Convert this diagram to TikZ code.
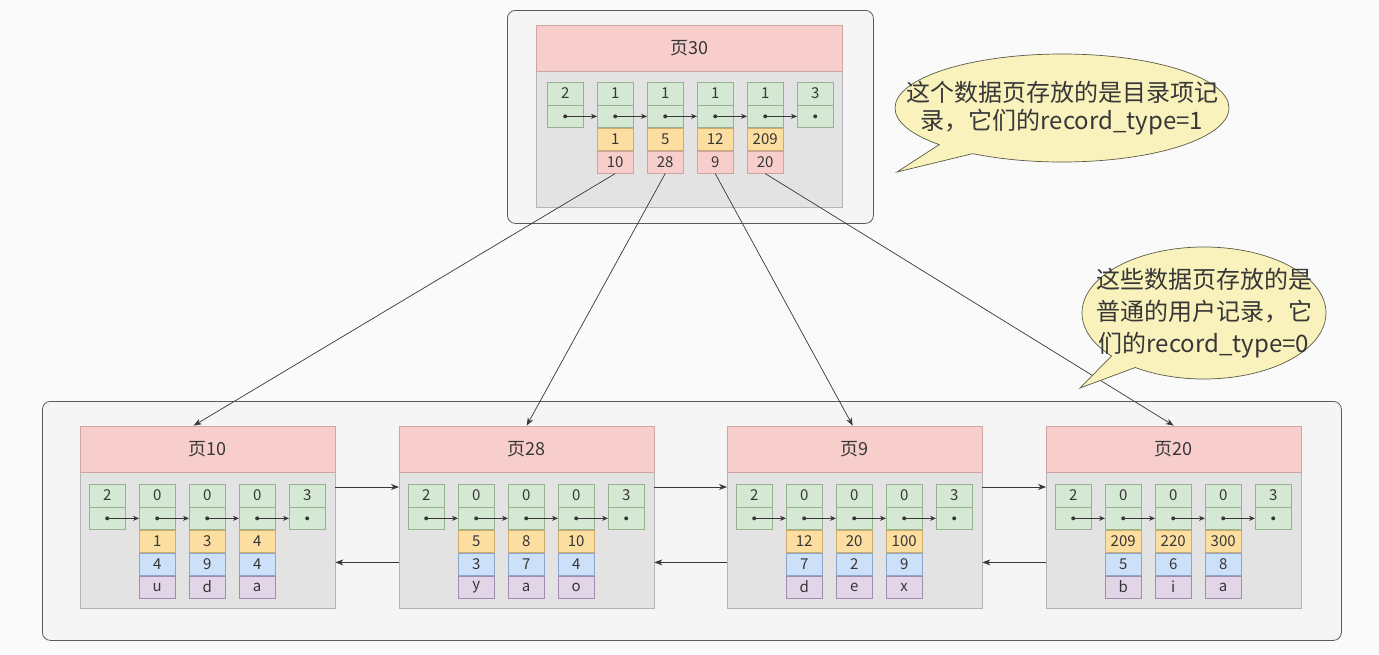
\documentclass[tikz,border=0pt]{standalone}
\usepackage{fontspec}
\setmainfont{Noto Sans CJK SC}
\usetikzlibrary{arrows.meta,positioning,shapes.callouts}
\definecolor{bgWhite}{RGB}{250,250,250}
\definecolor{outerFill}{RGB}{245,245,245}
\definecolor{outerLine}{RGB}{90,90,90}
\definecolor{pageRed}{RGB}{248,206,204}
\definecolor{pageRedLine}{RGB}{205,165,163}
\definecolor{bodyGray}{RGB}{227,227,227}
\definecolor{bodyLine}{RGB}{180,180,180}
\definecolor{recGreen}{RGB}{213,232,212}
\definecolor{recGreenLine}{RGB}{150,178,142}
\definecolor{keyYellow}{RGB}{252,222,160}
\definecolor{keyYellowLine}{RGB}{205,172,112}
\definecolor{colBlue}{RGB}{204,224,250}
\definecolor{colBlueLine}{RGB}{140,165,200}
\definecolor{colPurple}{RGB}{225,213,231}
\definecolor{colPurpleLine}{RGB}{160,140,175}
\definecolor{noteYellow}{RGB}{249,242,188}
\definecolor{noteLine}{RGB}{90,90,70}
\definecolor{inkGray}{RGB}{55,55,55}

\begin{document}
\begin{tikzpicture}[x=1pt,y=-1pt,
  outerbox/.style={draw=outerLine,fill=outerFill,rounded corners=8pt,line width=0.8pt,inner sep=0pt},
  pagebody/.style={draw=bodyLine,fill=bodyGray,minimum width=255,minimum height=136,inner sep=0pt},
  pagehead/.style={draw=pageRedLine,fill=pageRed,minimum width=255,minimum height=46,inner sep=0pt,
    font=\fontsize{18}{20}\selectfont,text=inkGray},
  cell/.style={draw,inner sep=0pt,minimum width=36,minimum height=22.5,
    font=\fontsize{15}{16}\selectfont,text=inkGray},
  hdr/.style={cell,fill=recGreen,draw=recGreenLine},
  key/.style={cell,fill=keyYellow,draw=keyYellowLine},
  colb/.style={cell,fill=colBlue,draw=colBlueLine},
  colc/.style={cell,fill=colPurple,draw=colPurpleLine},
  pgno/.style={cell,fill=pageRed,draw=pageRedLine},
  dot/.style={circle,fill=inkGray,inner sep=0pt,minimum size=4},
  ptr/.style={-{Stealth[length=6pt,width=5pt]},draw=inkGray,line width=0.7pt},
  link/.style={-{Stealth[length=8pt,width=6pt]},draw=inkGray,line width=0.7pt},
  note/.style={ellipse callout,draw=noteLine,fill=noteYellow,line width=0.7pt,inner sep=0pt}]

\path[use as bounding box,fill=bgWhite] (0,0) rectangle (1379,654);

% outer containers
\node[outerbox,minimum width=366,minimum height=213,anchor=north west] (upper) at (507,10) {};
\node[outerbox,minimum width=1299,minimum height=239,anchor=north west] (lower) at (42,401) {};

% directory page
\node[pagebody,minimum width=306,anchor=north west] (p30) at (536,71) {};
\node[pagehead,minimum width=306,anchor=south west] (p30hd) at (p30.north west) {页30};
\node[hdr,anchor=north west] (p30-a0) at (547,82) {2};
\node[hdr,below=0pt of p30-a0] (p30-b0) {};
\foreach \k/\pn [count=\i] in {1/10,5/28,12/9,209/20} {
  \node[hdr,anchor=north west] (p30-a\i) at (547+50*\i,82) {1};
  \node[hdr,below=0pt of p30-a\i] (p30-b\i) {};
  \node[key,below=0pt of p30-b\i] (p30-k\i) {\k};
  \node[pgno,below=0pt of p30-k\i] (p30-n\i) {\pn};
}
\node[hdr,anchor=north west] (p30-a5) at (797,82) {3};
\node[hdr,below=0pt of p30-a5] (p30-b5) {};
\foreach \i [evaluate=\i as \j using int(\i+1)] in {0,...,4} {
  \node[dot] (p30-d\i) at (p30-b\i) {};
  \draw[ptr] (p30-d\i) -- (p30-b\j.west);
}
\node[dot] (p30-d5) at (p30-b5) {};

% user record pages
\foreach \pg/\px/\ttl/\recs in {p10/80/页10/{1/4/u,3/9/d,4/4/a},
    p28/399/页28/{5/3/y,8/7/a,10/4/o},
    p9/727/页9/{12/7/d,20/2/e,100/9/x},
    p20/1046/页20/{209/5/b,220/6/i,300/8/a}} {
  \node[pagebody,anchor=north west] (\pg) at (\px,472) {};
  \node[pagehead,anchor=south west] (\pg hd) at (\pg.north west) {\ttl};
  \node[hdr,anchor=north west] (\pg-a0) at (\px+9,484) {2};
  \node[hdr,below=0pt of \pg-a0] (\pg-b0) {};
  \foreach \k/\m/\c [count=\i] in \recs {
    \node[hdr,anchor=north west] (\pg-a\i) at (\px+9+50*\i,484) {0};
    \node[hdr,below=0pt of \pg-a\i] (\pg-b\i) {};
    \node[key,below=0pt of \pg-b\i] (\pg-k\i) {\k};
    \node[colb,below=0pt of \pg-k\i] (\pg-m\i) {\m};
    \node[colc,below=0pt of \pg-m\i] (\pg-n\i) {\c};
  }
  \node[hdr,anchor=north west] (\pg-a4) at (\px+209,484) {3};
  \node[hdr,below=0pt of \pg-a4] (\pg-b4) {};
  \foreach \i [evaluate=\i as \j using int(\i+1)] in {0,...,3} {
    \node[dot] (\pg-d\i) at (\pg-b\i) {};
    \draw[ptr] (\pg-d\i) -- (\pg-b\j.west);
  }
  \node[dot] (\pg-d4) at (\pg-b4) {};
}

% directory entries point to pages
\draw[link] (p30-n1.south) -- ([xshift=-14pt]p10hd.north);
\draw[link] (p30-n2.south) -- (p28hd.north);
\draw[link] (p30-n3.south) -- ([xshift=-2pt]p9hd.north);
\draw[link] (p30-n4.south) -- (p20hd.north);

% doubly linked pages
\draw[link] ([yshift=-15pt]p10.north east) -- ([yshift=-15pt]p28.north west);
\draw[link] ([yshift=-15pt]p28.north east) -- ([yshift=-15pt]p9.north west);
\draw[link] ([yshift=-15pt]p9.north east) -- ([yshift=-15pt]p20.north west);
\draw[link] ([yshift=46pt]p28.south west) -- ([yshift=46pt]p10.south east);
\draw[link] ([yshift=46pt]p9.south west) -- ([yshift=46pt]p28.south east);
\draw[link] ([yshift=46pt]p20.south west) -- ([yshift=46pt]p9.south east);

% notes
\node[note,minimum width=334,minimum height=108,callout absolute pointer={(897,172)},
  label={[align=center,font=\fontsize{24}{28}\selectfont,text=inkGray]center:这个数据页存放的是目录项记\\录，它们的record\_type=1}]
  (note1) at (1062,108) {};
\node[note,minimum width=244,minimum height=132,callout absolute pointer={(1080,388)},
  label={[align=center,font=\fontsize{24}{32}\selectfont,text=inkGray]center:这些数据页存放的是\\普通的用户记录，它\\们的record\_type=0}]
  (note2) at (1204,313) {};
\end{tikzpicture}
\end{document}
